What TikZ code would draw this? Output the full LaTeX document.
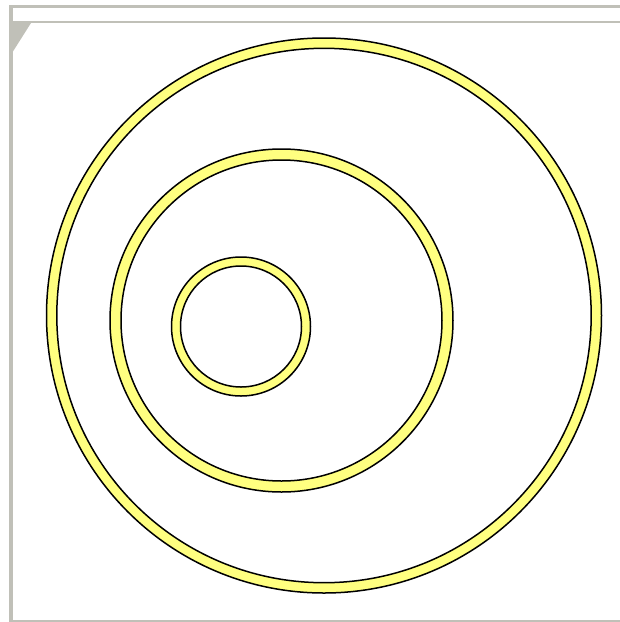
\documentclass[tikz,border=0pt]{standalone}
\usepackage{tikz}
\definecolor{framegray}{HTML}{C0C0B8}
\definecolor{ringyellow}{HTML}{FFFF80}
\begin{document}
\begin{tikzpicture}[
  x=0.5pt, y=-0.5pt,
  bar/.style={fill=framegray, draw=none},
  ring/.style={fill=ringyellow, draw=black, line width=0.75pt, even odd rule}
]
\useasboundingbox (0,0) rectangle (620,622);
% window frame
\fill[bar] (9,4.5) rectangle (620,7.5);
\fill[bar] (12,20.5) rectangle (620,23);
\fill[bar] (9,4.5) rectangle (12.5,622);
\fill[bar] (9,619.5) rectangle (620,622);
\fill[bar] (12,23) -- (31,23) -- (12,53) -- cycle;
% ring centres
\coordinate (big) at (324,315.5);
\coordinate (mid) at (281.5,320.5);
\coordinate (small) at (241,326.5);
% three rings
\path[ring] (big) circle[radius=138.75pt] (big) circle[radius=133.6pt];
\path[ring] (mid) circle[radius=85.75pt] (mid) circle[radius=80.25pt];
\path[ring] (small) circle[radius=34.75pt] (small) circle[radius=30.25pt];
\end{tikzpicture}
\end{document}
